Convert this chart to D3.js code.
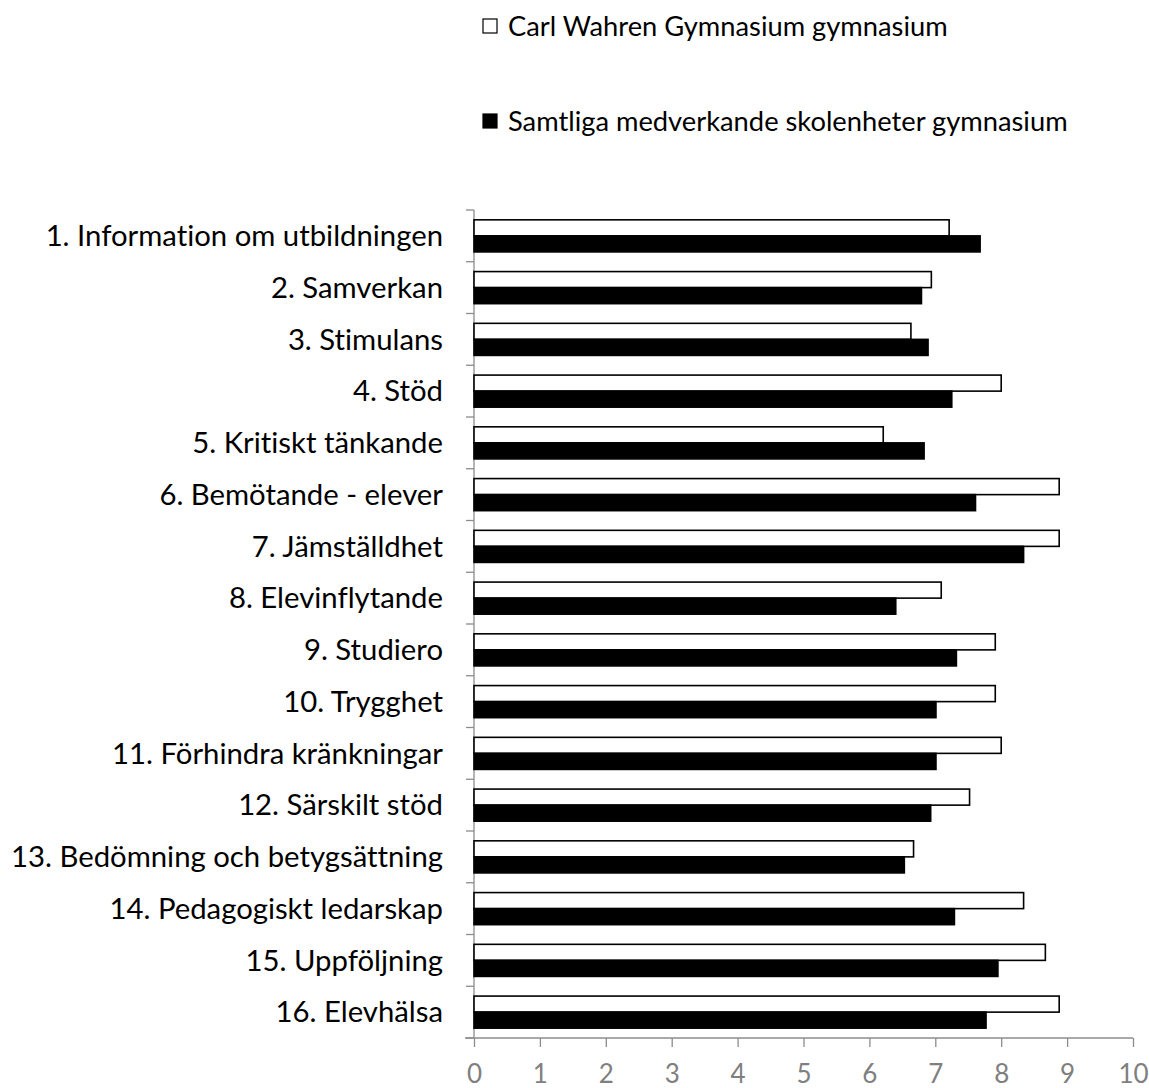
<!DOCTYPE html>
<html>
<head>
<meta charset="utf-8">
<script src="https://cdn.jsdelivr.net/npm/d3@7"></script>
<style>
  body { margin: 0; background: #fff; }
  text { font-family: Lato, "Open Sans", sans-serif; font-variant-ligatures: none; font-feature-settings: "liga" 0; }
</style>
</head>
<body>
<div id="chart"></div>
<script>
const width = 1149;
const height = 1088;

const categories = [
  '1. Information om utbildningen',
  '2. Samverkan',
  '3. Stimulans',
  '4. Stöd',
  '5. Kritiskt tänkande',
  '6. Bemötande - elever',
  '7. Jämställdhet',
  '8. Elevinflytande',
  '9. Studiero',
  '10. Trygghet',
  '11. Förhindra kränkningar',
  '12. Särskilt stöd',
  '13. Bedömning och betygsättning',
  '14. Pedagogiskt ledarskap',
  '15. Uppföljning',
  '16. Elevhälsa'
];
const seriesNames = ['Carl Wahren Gymnasium gymnasium', 'Samtliga medverkande skolenheter gymnasium'];
const schoolValues = [7.21, 6.94, 6.63, 8.00, 6.21, 8.88, 8.88, 7.09, 7.91, 7.91, 8.00, 7.52, 6.67, 8.34, 8.67, 8.88];
const allValues = [7.68, 6.79, 6.89, 7.25, 6.83, 7.61, 8.34, 6.40, 7.32, 7.01, 7.01, 6.93, 6.53, 7.29, 7.95, 7.77];
const xTicks = [0, 1, 2, 3, 4, 5, 6, 7, 8, 9, 10];
const seriesFill = ['#ffffff', '#000000'];

const rows = categories.map((c, i) => ({cat: c, vals: [schoolValues[i], allValues[i]]}));

let svg = d3.select('#chart')
    .append('svg')
    .attr('width', width)
    .attr('height', height);

let x = d3.scaleLinear().domain([0, 10]).range([474, 1133]);
let y = d3.scaleBand().domain(categories).range([210, 1038])
    .paddingInner(0.38).paddingOuter(0.19);
let ySub = d3.scaleBand().domain([0, 1]).range([0, y.bandwidth()]);
let step = y.step();

// scale a text group so the chosen string gets the wanted width
function fitFont(sel, base, target, idx) {
  sel.style('font-size', base + 'px');
  let w = sel.nodes()[idx || 0].getComputedTextLength();
  sel.style('font-size', (base * target / w) + 'px');
}

// y axis line and ticks at category boundaries
let axisColor = '#8c8c8c';
svg.append('line')
    .attr('x1', x(0)).attr('x2', x(0))
    .attr('y1', 210).attr('y2', 1038)
    .attr('stroke', axisColor).attr('stroke-width', 1.3);
svg.selectAll('.ytick')
    .data(d3.range(categories.length + 1))
    .enter().append('line')
    .attr('x1', x(0) - 8).attr('x2', x(0))
    .attr('y1', i => 210 + i * step).attr('y2', i => 210 + i * step)
    .attr('stroke', axisColor).attr('stroke-width', 1.3);

// x axis
let xAxis = svg.append('g')
    .attr('transform', 'translate(0,1038)')
    .call(d3.axisBottom(x).tickValues(xTicks).tickSize(9).tickPadding(18).tickSizeOuter(0));
xAxis.select('.domain').attr('d', `M465,0H${x(10)}`).attr('stroke', axisColor).attr('stroke-width', 1.3);
xAxis.selectAll('.tick line').attr('stroke', axisColor).attr('stroke-width', 1.3);
xAxis.selectAll('.tick text')
    .attr('fill', '#7f7f7f')
    .style('font-family', 'Lato, sans-serif')
    .style('font-size', '26px')
    .attr('dy', '0.71em');

// bars
let groups = svg.selectAll('.cat')
    .data(rows)
    .enter().append('g')
    .attr('transform', d => `translate(0,${y(d.cat)})`);

groups.selectAll('rect')
    .data(d => d.vals)
    .enter().append('rect')
    .attr('x', x(0))
    .attr('y', (d, i) => ySub(i))
    .attr('width', d => x(d) - x(0))
    .attr('height', ySub.bandwidth())
    .attr('fill', (d, i) => seriesFill[i])
    .attr('stroke', '#000')
    .attr('stroke-width', 1.6);

// category labels
let labels = svg.selectAll('.lab')
    .data(categories)
    .enter().append('text')
    .attr('x', 443)
    .attr('y', d => y(d) + y.bandwidth() / 2)
    .attr('dy', '0.35em')
    .attr('text-anchor', 'end')
    .attr('fill', '#000')
    .text(d => d);
fitFont(labels, 28, 432, 12);

// legend
let legend = svg.selectAll('.leg')
    .data(seriesNames)
    .enter().append('g')
    .attr('transform', (d, i) => `translate(483,${26 + i * 95})`);
legend.append('rect')
    .attr('x', 0).attr('y', -7)
    .attr('width', 14).attr('height', 14)
    .attr('fill', (d, i) => seriesFill[i])
    .attr('stroke', '#000').attr('stroke-width', 1.2);
let legText = legend.append('text')
    .attr('x', 25)
    .attr('dy', '0.35em')
    .attr('fill', '#000')
    .text(d => d);
fitFont(legText, 28, 440);
</script>
</body>
</html>
